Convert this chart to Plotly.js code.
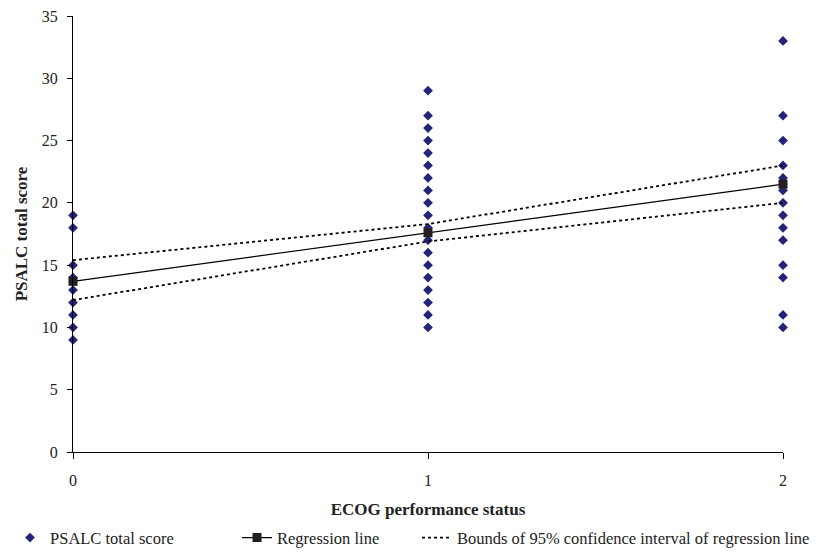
<!DOCTYPE html>
<html>
<head>
<meta charset="utf-8">
<script src="https://cdn.plot.ly/plotly-3.0.1.min.js"></script>
<style>html,body{margin:0;padding:0;background:#fff;}#chart{width:828px;height:556px;}</style>
</head>
<body>
<div id="chart"></div>
<script>
// Observed PSALC total scores by ECOG performance status
const ecog0X = [0, 0, 0, 0, 0, 0, 0, 0, 0];
const ecog0Y = [19, 18, 15, 14, 13, 12, 11, 10, 9];
const ecog1X = [1,1,1,1,1,1,1,1,1,1,1,1,1,1,1,1,1,1,1];
const ecog1Y = [29, 27, 26, 25, 24, 23, 22, 21, 20, 19, 18, 17, 16, 15, 14, 13, 12, 11, 10];
const ecog2X = [2,2,2,2,2,2,2,2,2,2,2,2,2,2];
const ecog2Y = [33, 27, 25, 23, 22, 21, 20, 19, 18, 17, 15, 14, 11, 10];

// Regression line and 95% CI bounds
const regX = [0, 1, 2];
const regY = [13.7, 17.6, 21.5];
const ciUpperY = [15.4, 18.3, 23.0];
const ciLowerY = [12.2, 16.9, 20.0];

const serif = "'Liberation Serif', 'Times New Roman', serif";
const scoreX = ecog0X.concat(ecog1X, ecog2X);
const scoreY = ecog0Y.concat(ecog1Y, ecog2Y);

const traces = [
  {x: scoreX, y: scoreY, type: 'scatter', mode: 'markers', name: 'PSALC total score',
   marker: {symbol: 'diamond', size: 7.5, color: '#232377'}, cliponaxis: false, legend: 'legend'},
  {x: regX, y: regY, type: 'scatter', mode: 'lines+markers', name: 'Regression line',
   line: {color: '#000', width: 1.2}, marker: {symbol: 'square', size: 9, color: '#231f20'},
   cliponaxis: false, legend: 'legend2'},
  {x: regX, y: ciUpperY, type: 'scatter', mode: 'lines', name: 'Bounds of 95% confidence interval of regression line',
   line: {color: '#000', width: 1.8, dash: 'dot'}, legend: 'legend3'},
  {x: regX, y: ciLowerY, type: 'scatter', mode: 'lines', showlegend: false,
   line: {color: '#000', width: 1.8, dash: 'dot'}, legend: 'legend3'}
];

const legendBase = {orientation: 'h', xanchor: 'left', y: -0.197, yanchor: 'middle',
  font: {family: serif, size: 16.5, color: '#222'}, bgcolor: 'rgba(0,0,0,0)', borderwidth: 0};

const layout = {
  width: 828, height: 556,
  margin: {l: 73, r: 45, t: 16, b: 104, autoexpand: false},
  paper_bgcolor: '#fff', plot_bgcolor: '#fff',
  font: {family: serif, size: 16, color: '#222'},
  showlegend: true,
  legend: Object.assign({}, legendBase, {x: -0.0887}),
  legend2: Object.assign({}, legendBase, {x: 0.231}),
  legend3: Object.assign({}, legendBase, {x: 0.4845}),
  xaxis: {range: [0, 2], tickvals: [0, 1, 2], ticktext: ['0', '1', '2'], automargin: false,
          showgrid: false, zeroline: false, showline: true, linecolor: '#000', linewidth: 1,
          ticks: 'outside', ticklen: 6, tickcolor: '#000', ticklabelstandoff: 8,
          tickfont: {family: serif, size: 16, color: '#222'},
          title: {text: '<b>ECOG performance status</b>', standoff: 14,
                  font: {family: serif, size: 17, color: '#222'}}},
  yaxis: {range: [0, 35], dtick: 5, tick0: 0, automargin: false,
          showgrid: false, zeroline: false, showline: true, linecolor: '#000', linewidth: 1,
          ticks: 'outside', ticklen: 5, tickcolor: '#000', ticklabelstandoff: 6,
          tickfont: {family: serif, size: 16, color: '#222'},
          title: {text: '<b>PSALC total score</b>', standoff: 9,
                  font: {family: serif, size: 17, color: '#222'}}}
};

Plotly.newPlot('chart', traces, layout, {displayModeBar: false, staticPlot: true});
</script>
</body>
</html>
